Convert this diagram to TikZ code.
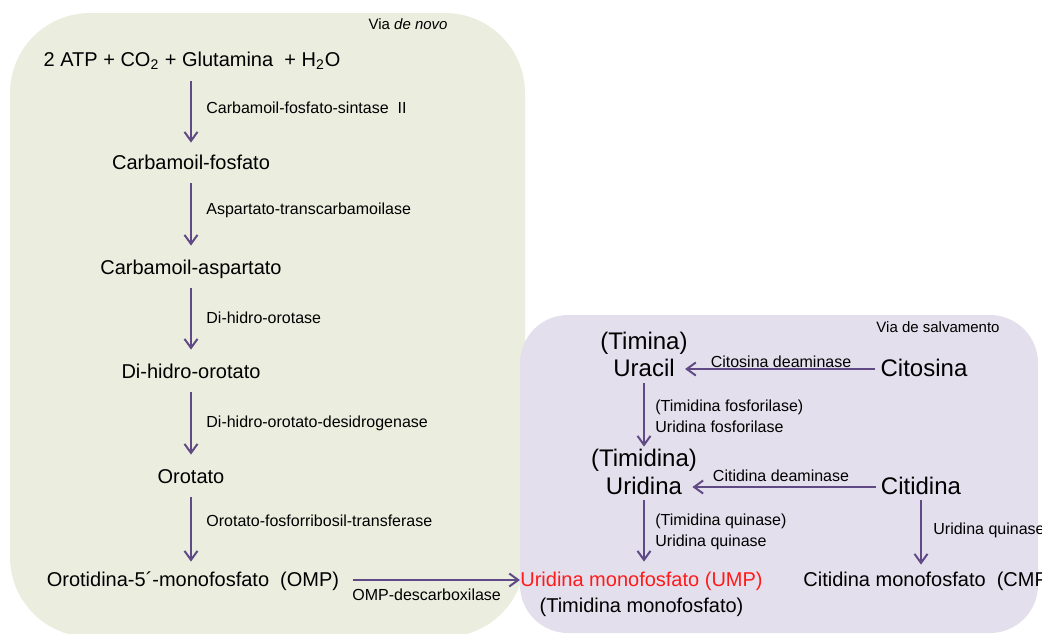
\documentclass[tikz,border=0pt]{standalone}
\usepackage{fontspec}
\setmainfont{Liberation Sans}
\usetikzlibrary{arrows.meta}
\definecolor{fundoverde}{HTML}{EBEEDF}
\definecolor{fundolilas}{HTML}{E4DFEC}
\definecolor{roxo}{HTML}{604A85}
\definecolor{vermelhoump}{HTML}{FF1A1A}
\tikzset{
  composto/.style={inner sep=0pt, font=\fontsize{10}{12}\selectfont, text height=8pt, text depth=2pt},
  base/.style={inner sep=0pt, font=\fontsize{12}{14}\selectfont, text height=9.5pt, text depth=2.5pt},
  enzima/.style={inner sep=0pt, anchor=west, align=left, font=\fontsize{8}{10.5}\selectfont},
  via/.style={inner sep=0pt, anchor=east, font=\fontsize{7.5}{9}\selectfont},
  seta/.style={draw=roxo, line width=1pt, -{Straight Barb[length=4.5pt,width=6.5pt,line width=1pt]}},
}
\begin{document}
\begin{tikzpicture}[x=0.5pt,y=-0.5pt]
    \useasboundingbox (0,0) rectangle (1042,633);
    \clip (0,0) rectangle (1042,633);

    % fundos das duas vias
    \fill[fundoverde,rounded corners=40pt] (10,13) rectangle (525,637);
    \fill[fundolilas,rounded corners=24pt] (520,315) rectangle (1038,633);
    \node[via] (tdenovo) at (448,24) {Via \textit{de novo}};
    \node[via] (tsalv) at (1000,327) {Via de salvamento};

    % via de novo
    \node[composto] (atp) at (192,60) {2 ATP + CO\textsubscript{2} + Glutamina~~+ H\textsubscript{2}O};
    \node[composto] (cfos) at (191,163) {Carbamoil-fosfato};
    \node[composto] (casp) at (191,268) {Carbamoil-aspartato};
    \node[composto] (dho) at (191,372) {Di-hidro-orotato};
    \node[composto] (oro) at (191,477) {Orotato};
    \node[composto] (omp) at (193,580) {Orotidina-5´-monofosfato~~(OMP)};

    \draw[seta,shorten <=5.5pt,shorten >=5pt] (cfos.north |- atp.south) -- (cfos.north);
    \draw[seta,shorten <=5pt,shorten >=6pt] (cfos.south) -- (casp.north);
    \draw[seta,shorten <=5pt,shorten >=6pt] (casp.south) -- (dho.north);
    \draw[seta,shorten <=5pt,shorten >=6pt] (dho.south) -- (oro.north);
    \draw[seta,shorten <=5pt,shorten >=4pt] (oro.south) -- (oro.south |- omp.north);

    \node[enzima] (e1) at (206,108) {Carbamoil-fosfato-sintase~~II};
    \node[enzima] (e2) at (206,210) {Aspartato-transcarbamoilase};
    \node[enzima] (e3) at (206,318) {Di-hidro-orotase};
    \node[enzima] (e4) at (206,423) {Di-hidro-orotato-desidrogenase};
    \node[enzima] (e5) at (206,521) {Orotato-fosforribosil-transferase};

    % via de salvamento
    \node[base] (timina) at (644,342) {(Timina)};
    \node[base] (uracil) at (644,369) {Uracil};
    \node[base] (citosina) at (924,369) {Citosina};
    \node[base] (timidina) at (644,459) {(Timidina)};
    \node[base] (uridina) at (644,487) {Uridina};
    \node[base] (citidina) at (921,487) {Citidina};
    \node[composto,text=vermelhoump] (ump) at (641.5,580) {Uridina monofosfato (UMP)};
    \node[composto] (tmp) at (641.5,606) {(Timidina monofosfato)};
    \node[composto,anchor=west] (cmp) at (803,580) {Citidina monofosfato~~(CMP)};

    \draw[seta,shorten <=2.5pt,shorten >=5pt] (citosina.west) -- (uracil.east);
    \draw[seta,shorten <=2.5pt,shorten >=5pt] (citidina.west) -- (uridina.east);
    \draw[seta,shorten <=1pt,shorten >=0pt] (uracil.south) -- (timidina.north);
    \draw[seta,shorten <=0.5pt,shorten >=4pt] (uridina.south) -- (ump.north -| uridina.south);
    \draw[seta,shorten <=0.5pt,shorten >=2.5pt] (citidina.south) -- (citidina.south |- cmp.north);
    \draw[seta,shorten <=6.5pt,shorten >=0pt] (omp.east) -- (ump.west);

    \node[enzima,anchor=center] (e6) at (781,362) {Citosina deaminase};
    \node[enzima,anchor=center] (e7) at (781,476) {Citidina deaminase};
    \node[enzima] (e8) at (655,416) {(Timidina fosforilase)\\Uridina fosforilase};
    \node[enzima] (e9) at (655,532) {(Timidina quinase)\\Uridina quinase};
    \node[enzima] (e10) at (933,530) {Uridina quinase};
    \node[enzima] (e11) at (352,595) {OMP-descarboxilase};
\end{tikzpicture}
\end{document}
